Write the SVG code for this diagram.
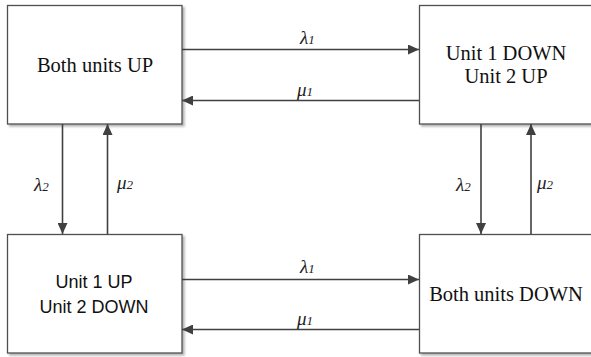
<svg xmlns="http://www.w3.org/2000/svg" width="591" height="357" viewBox="0 0 591 357">
<defs>
<marker id="ah" markerUnits="userSpaceOnUse" markerWidth="12" markerHeight="10" refX="11" refY="5" orient="auto">
<path d="M0,0 L11,5 L0,10 Z" fill="#404040"/>
</marker>
<filter id="sh" x="-5%" y="-5%" width="115%" height="115%">
<feDropShadow dx="2" dy="2" stdDeviation="0.8" flood-color="#000" flood-opacity="0.3"/>
</filter>
</defs>
<style>
.box{fill:#fff;stroke:#505050;stroke-width:1.3;filter:url(#sh)}
.serif{font-family:"Liberation Serif","Times New Roman",serif;font-size:20.5px;fill:#111;text-anchor:middle}
.sans{font-family:"Liberation Sans",Arial,sans-serif;font-size:18px;fill:#111;text-anchor:middle}
.lbl{font-family:"Liberation Serif","Times New Roman",serif;font-style:italic;font-size:19px;fill:#222}
.sub{font-size:13px}
.conn{stroke:#404040;stroke-width:1.6;fill:none;marker-end:url(#ah)}
</style>
<rect width="591" height="357" fill="#fff"/>
<g id="node-both-up">
<rect class="box" x="7.5" y="5.5" width="174.5" height="118.5"/>
<text class="serif" x="95" y="72">Both units UP</text>
</g>
<g id="node-u1down-u2up">
<rect class="box" x="419.5" y="5.5" width="174.5" height="118.5"/>
<text class="serif" x="506" y="60">Unit 1 DOWN</text>
<text class="serif" x="506" y="83">Unit 2 UP</text>
</g>
<g id="node-u1up-u2down">
<rect class="box" x="7.5" y="234.5" width="174.5" height="118.5"/>
<text class="sans" x="94" y="288">Unit 1 UP</text>
<text class="sans" x="94" y="313">Unit 2 DOWN</text>
</g>
<g id="node-both-down">
<rect class="box" x="419.5" y="234.5" width="174.5" height="118.5"/>
<text class="serif" x="506" y="301">Both units DOWN</text>
</g>
<g id="connectors">
<line class="conn" x1="182" y1="49.5" x2="419" y2="49.5"/>
<line class="conn" x1="419" y1="100.5" x2="182" y2="100.5"/>
<line class="conn" x1="182" y1="279.5" x2="419" y2="279.5"/>
<line class="conn" x1="419" y1="329.5" x2="182" y2="329.5"/>
<line class="conn" x1="62.5" y1="124" x2="62.5" y2="234"/>
<line class="conn" x1="107.5" y1="234" x2="107.5" y2="124"/>
<line class="conn" x1="481" y1="124" x2="481" y2="234"/>
<line class="conn" x1="531" y1="234" x2="531" y2="124"/>
<text class="lbl" x="300" y="44">λ<tspan class="sub">1</tspan></text>
<text class="lbl" x="297" y="96">μ<tspan class="sub">1</tspan></text>
<text class="lbl" x="300" y="273">λ<tspan class="sub">1</tspan></text>
<text class="lbl" x="297" y="325">μ<tspan class="sub">1</tspan></text>
<text class="lbl" x="34" y="191">λ<tspan class="sub">2</tspan></text>
<text class="lbl" x="117" y="189">μ<tspan class="sub">2</tspan></text>
<text class="lbl" x="456" y="191">λ<tspan class="sub">2</tspan></text>
<text class="lbl" x="537" y="189">μ<tspan class="sub">2</tspan></text>
</g>
</svg>
